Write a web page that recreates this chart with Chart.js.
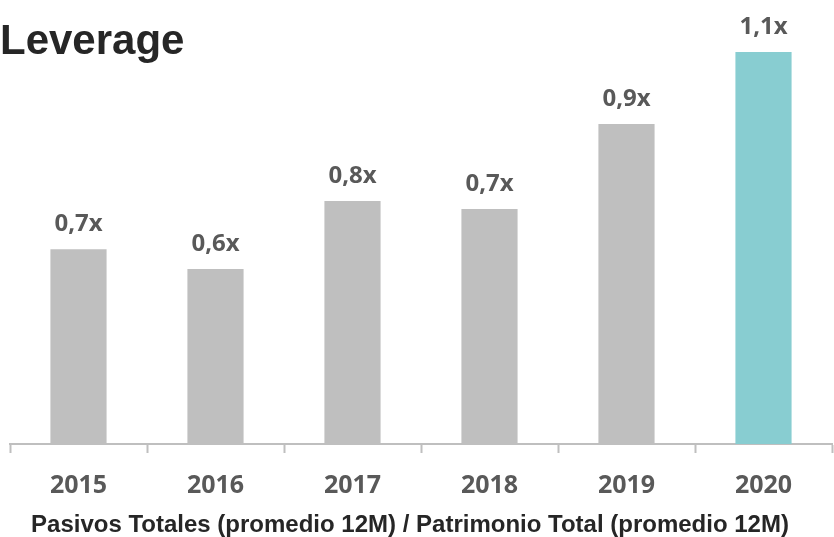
<!DOCTYPE html>
<html>
<head>
<meta charset="utf-8">
<script src="https://cdn.jsdelivr.net/npm/chart.js@4"></script>
<style>
  body { margin: 0; background: #fff; }
  #wrap { position: relative; width: 834px; height: 537px; }
  #title {
    position: absolute; left: 0; top: 19px;
    font: bold 42px/42px "Liberation Sans", Arial, sans-serif; color: #262626;
  }
  #subtitle {
    position: absolute; left: 0; top: 512px; width: 820px; text-align: center;
    font: bold 24px/24px "Liberation Sans", Arial, sans-serif; color: #262626;
  }
</style>
</head>
<body>
<div id="wrap">
  <canvas id="chart"></canvas>
  <div id="title">Leverage</div>
  <div id="subtitle">Pasivos Totales (promedio 12M) / Patrimonio Total (promedio 12M)</div>
</div>
<script>
// Leverage por año (veces)
const years = ['2015', '2016', '2017', '2018', '2019', '2020'];
const leverage = [0.653, 0.609, 0.760, 0.742, 0.931, 1.091];
const barColors = ['#bfbfbf', '#bfbfbf', '#bfbfbf', '#bfbfbf', '#bfbfbf', '#88cdd1'];

const fmt = v => v.toFixed(1).replace('.', ',') + 'x';

// labels above the bars
const valueLabels = {
  id: 'valueLabels',
  afterDatasetsDraw(chart) {
    const ctx = chart.ctx;
    const meta = chart.getDatasetMeta(0);
    ctx.save();
    ctx.font = '700 24px "Open Sans"';
    ctx.fillStyle = '#595959';
    ctx.textAlign = 'center';
    ctx.textBaseline = 'alphabetic';
    meta.data.forEach((bar, i) => {
      ctx.fillText(fmt(leverage[i]), bar.x, bar.y - 18);
    });
    ctx.restore();
  }
};

new Chart(document.getElementById('chart'), {
  type: 'bar',
  data: {
    labels: years,
    datasets: [{
      data: leverage,
      backgroundColor: barColors,
      categoryPercentage: 1,
      barPercentage: 0.41
    }]
  },
  options: {
    responsive: true,
    maintainAspectRatio: false,
    animation: false,
    layout: { padding: { top: 39, left: 10, right: 2, bottom: 18 } },
    plugins: {
      legend: { display: false },
      tooltip: { enabled: false }
    },
    scales: {
      y: { display: false, min: 0.22, max: 1.12 },
      x: {
        border: { display: true, color: '#bfbfbf', width: 2 },
        grid: {
          offset: true,
          drawOnChartArea: false,
          drawTicks: true,
          tickLength: 9,
          tickColor: '#bfbfbf',
          tickWidth: 2
        },
        ticks: {
          padding: 18,
          color: '#595959',
          font: { family: 'Open Sans', size: 25, weight: 'bold' }
        }
      }
    }
  },
  plugins: [valueLabels]
});
</script>
</body>
</html>
